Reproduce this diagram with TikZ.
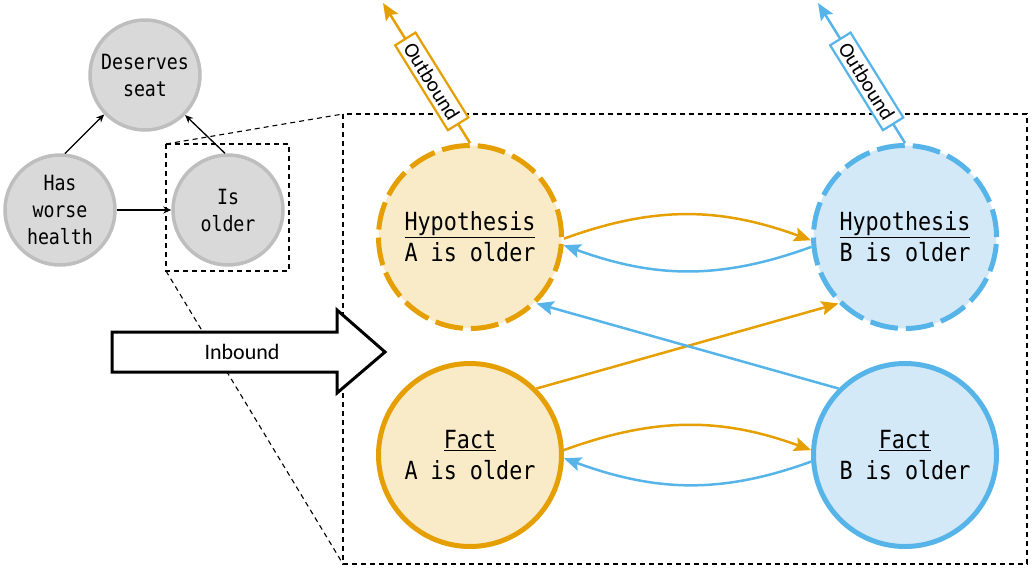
\documentclass[tikz,border=0pt]{standalone}
\usepackage{fontspec}
\setmainfont{Carlito}
\newfontfamily\monof[FakeStretch=0.87]{DejaVu Sans Mono}
\usetikzlibrary{arrows.meta}
\definecolor{orng}{HTML}{E69F00}
\definecolor{orngfill}{HTML}{FAEBC8}
\definecolor{blu}{HTML}{56B4E9}
\definecolor{blufill}{HTML}{D3E9F7}
\definecolor{grayfill}{HTML}{D9D9D9}
\definecolor{grayline}{HTML}{BEBEBE}
\tikzset{
  smallnode/.style={circle, draw=grayline, fill=grayfill, line width=3.5pt, minimum size=110pt, inner sep=0pt, align=center, font=\monof\fontsize{21}{27}\selectfont},
  bignode/.style={circle, line width=5pt, minimum size=183pt, inner sep=0pt, align=center, font=\monof\fontsize{25}{31}\selectfont},
  onode/.style={bignode, draw=orng, fill=orngfill},
  bnode/.style={bignode, draw=blu, fill=blufill},
  hypdash/.style={dash pattern=on 28pt off 8pt},
  smallarr/.style={line width=1.3pt, -{Stealth[length=8pt,width=7pt]}},
  oarr/.style={draw=orng, line width=2.5pt, -{Stealth[length=17pt,width=14pt,inset=3pt]}, color=orng},
  barr/.style={draw=blu, line width=2.5pt, -{Stealth[length=17pt,width=14pt,inset=3pt]}, color=blu},
  obox/.style={draw, fill=white, line width=2.2pt, minimum width=100pt, minimum height=24pt, inner sep=0pt, font=\fontsize{21}{21}\selectfont, text=black},
  zoomline/.style={line width=1.1pt, dash pattern=on 5pt off 4pt},
}
\begin{document}
\begin{tikzpicture}[x=1pt,y=1pt]
\useasboundingbox (0,-571) rectangle (1036,0);
% small graph
\node[smallnode] (ds) at (145,-75) {Deserves\\seat};
\node[smallnode] (hw) at (60,-210) {Has\\worse\\health};
\node[smallnode] (io) at (228,-210) {Is\\older};
\draw[smallarr] (hw.85) -- (ds.224);
\draw[smallarr] (io.93) -- (ds.-45);
\draw[smallarr] (hw.east) -- (io.west);
% zoom frames
\coordinate (s1) at (166,-144);
\coordinate (s2) at (289,-271);
\coordinate (b1) at (343,-114);
\coordinate (b2) at (1027,-564);
\draw[zoomline] (s1) rectangle (s2);
\draw[zoomline] (b1) rectangle (b2);
\draw[zoomline] (s1) -- (b1);
\draw[zoomline] (166,-271) coordinate (s3) -- (343,-564) coordinate (b3);
% inbound arrow
\draw[line width=3pt, fill=white, line join=miter] (112,-332) -- (337,-332) -- (337,-310) -- (385,-352) -- (337,-393) -- (337,-372) -- (112,-372) -- cycle;
\node[font=\fontsize{22}{22}\selectfont] (inb) at (242,-352) {Inbound};
% outbound
\coordinate (oA) at (383,-3);
\coordinate (oB) at (818,-3);
% big nodes
\node[onode, hypdash] (hA) at (470,-237) {\underline{Hypothesis}\\A is older};
\node[onode] (fA) at (470,-455) {\underline{Fact}\\A is older};
\node[bnode, hypdash] (hB) at (905,-237) {\underline{Hypothesis}\\B is older};
\node[bnode] (fB) at (905,-455) {\underline{Fact}\\B is older};
\draw[oarr] (hA.north) -- (oA) node[pos=0.44, sloped, obox, draw=orng] {Outbound};
\draw[barr] (hB.north) -- (oB) node[pos=0.44, sloped, obox, draw=blu] {Outbound};
% connectors
\draw[oarr] (hA.-1) to[out=20,in=160] (hB.182);
\draw[barr] (hB.186) to[out=200,in=-20] (hA.-5);
\draw[oarr] (fA.3) to[out=20,in=160] (fB.177);
\draw[barr] (fB.184) to[out=200,in=-20] (fA.-2);
\draw[oarr] (fA.45) -- (hB.225);
\draw[barr] (fB.135) -- (hA.-45);
\end{tikzpicture}
\end{document}
